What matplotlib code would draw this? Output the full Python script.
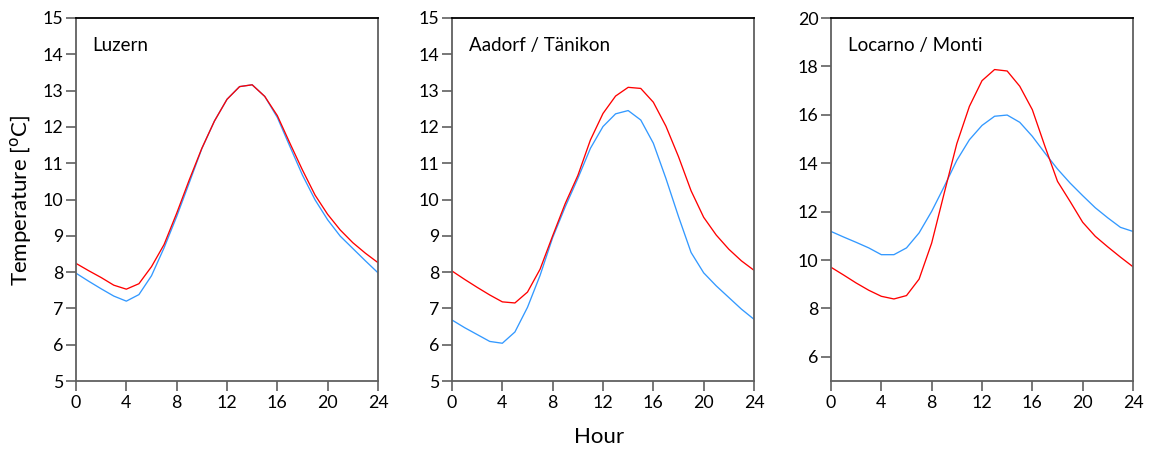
import matplotlib
matplotlib.use("Agg")
import matplotlib.pyplot as plt

plt.rcParams['font.family'] = ['Lato', 'DejaVu Sans']

hours = list(range(25))
stations = ["Luzern", "Aadorf / Tänikon", "Locarno / Monti"]

luzern_red = [8.24, 8.04, 7.85, 7.64, 7.53, 7.68, 8.15, 8.76, 9.62, 10.54, 11.41, 12.16, 12.76,
              13.11, 13.16, 12.84, 12.31, 11.55, 10.81, 10.12, 9.59, 9.16, 8.81, 8.52, 8.26]
luzern_blue = [7.97, 7.75, 7.54, 7.34, 7.20, 7.38, 7.90, 8.67, 9.53, 10.46, 11.40, 12.16, 12.76,
               13.11, 13.16, 12.84, 12.26, 11.46, 10.67, 9.99, 9.44, 8.99, 8.65, 8.31, 7.98]

aadorf_red = [8.03, 7.80, 7.58, 7.37, 7.18, 7.15, 7.45, 8.08, 9.00, 9.89, 10.66, 11.64, 12.37,
              12.85, 13.09, 13.06, 12.68, 12.02, 11.18, 10.24, 9.51, 9.02, 8.63, 8.31, 8.05]
aadorf_blue = [6.68, 6.47, 6.28, 6.09, 6.04, 6.35, 7.03, 7.91, 8.95, 9.80, 10.58, 11.41, 12.01,
               12.36, 12.45, 12.19, 11.55, 10.58, 9.53, 8.54, 7.98, 7.62, 7.30, 6.98, 6.70]

locarno_red = [9.70, 9.38, 9.05, 8.75, 8.50, 8.39, 8.53, 9.21, 10.70, 12.77, 14.81, 16.35, 17.41,
               17.87, 17.81, 17.18, 16.21, 14.70, 13.25, 12.42, 11.56, 10.98, 10.54, 10.12, 9.72]
locarno_blue = [11.18, 10.95, 10.73, 10.50, 10.22, 10.22, 10.50, 11.12, 12.01, 13.04, 14.12, 14.97, 15.56,
                15.94, 15.99, 15.69, 15.11, 14.42, 13.76, 13.18, 12.66, 12.16, 11.74, 11.35, 11.18]

series = [(luzern_red, luzern_blue), (aadorf_red, aadorf_blue), (locarno_red, locarno_blue)]
ylims = [(5, 15), (5, 15), (5, 20)]
yticks = [list(range(5, 16)), list(range(5, 16)), list(range(6, 21, 2))]
xticks = [0, 4, 8, 12, 16, 20, 24]

W, H = 1149, 449
fig = plt.figure(figsize=(W / 100, H / 100), dpi=100)
lefts = [76, 452, 831]
width = 302
top, bottom = 18, 381

red = '#ff0000'
blue = '#3399ff'
spine_gray = '#606060'

for i in range(3):
    ax = fig.add_axes([lefts[i] / W, 1 - bottom / H, width / W, (bottom - top) / H])
    r, b = series[i]
    ax.plot(hours, b, color=blue, lw=0.95)
    ax.plot(hours, r, color=red, lw=0.95)
    ax.set_xlim(0, 24)
    ax.set_ylim(*ylims[i])
    ax.set_xticks(xticks)
    ax.set_yticks(yticks[i])
    ax.tick_params(axis='both', direction='out', length=7, width=1.2, color=spine_gray,
                   labelsize=12.8, pad=2)
    ax.tick_params(axis='x', pad=3)
    for s in ['left', 'bottom', 'right']:
        ax.spines[s].set_color(spine_gray)
        ax.spines[s].set_linewidth(1.3)
    ax.spines['top'].set_color('black')
    ax.spines['top'].set_linewidth(1.3)
    ax.text(0.055, 0.923, stations[i], transform=ax.transAxes, fontsize=13.5,
            ha='left', va='center')

fig.text(21 / W, 1 - 200 / H, 'Temperature [$^{\\rm o}$C]', rotation=90, fontsize=16,
         ha='center', va='center')
fig.text(599 / W, 1 - 437 / H, 'Hour', fontsize=16, ha='center', va='center')

fig.savefig('out.png', dpi=100)
